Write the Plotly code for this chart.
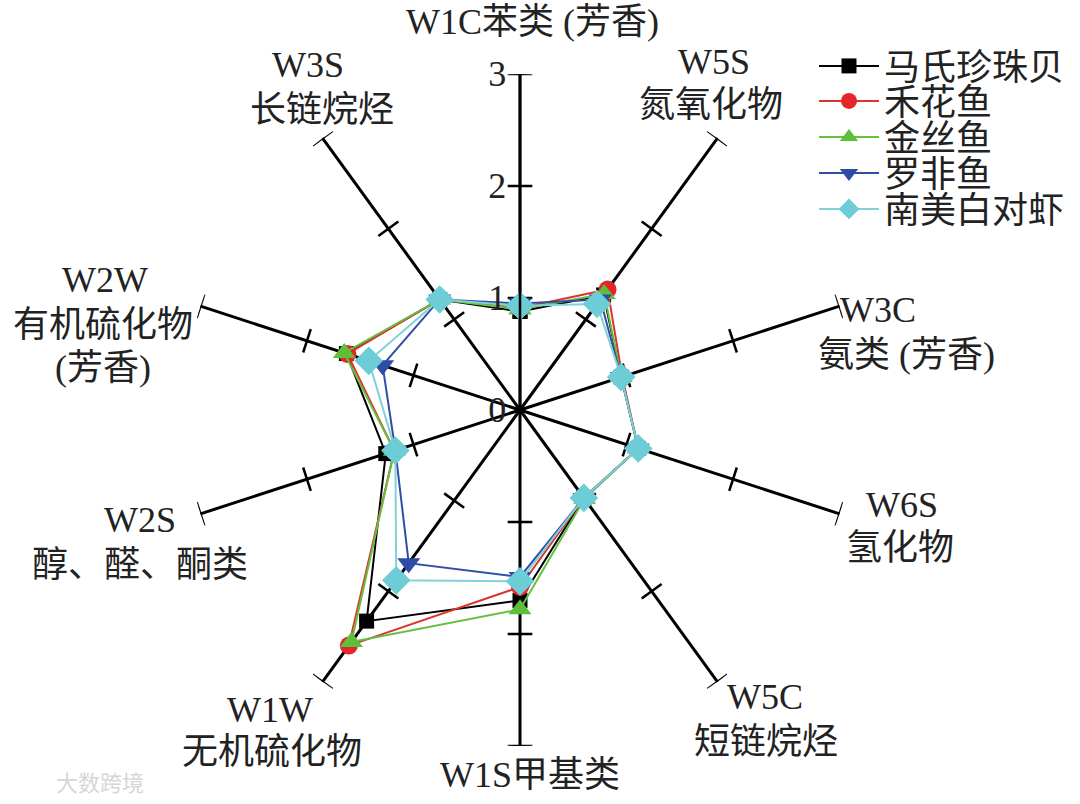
import math
import plotly.graph_objects as go

# ---------------- data ----------------
categories = ["W1C", "W5S", "W3C", "W6S", "W5C", "W1S", "W1W", "W2S", "W2W", "W3S"]
series_names = ["马氏珍珠贝", "禾花鱼", "金丝鱼", "罗非鱼", "南美白对虾"]
ma_shi_zhen_zhu_bei = [0.88, 1.27, 0.95, 1.11, 0.97, 1.70, 2.33, 1.26, 1.63, 1.22]
he_hua_yu = [0.91, 1.33, 0.96, 1.11, 0.97, 1.58, 2.60, 1.18, 1.62, 1.22]
jin_si_yu = [0.90, 1.28, 0.95, 1.11, 0.98, 1.78, 2.56, 1.18, 1.65, 1.22]
luo_fei_yu = [0.95, 1.22, 0.95, 1.11, 0.97, 1.49, 1.69, 1.17, 1.29, 1.22]
nan_mei_bai_dui_xia = [0.93, 1.17, 0.95, 1.11, 0.97, 1.53, 1.88, 1.17, 1.42, 1.22]
radial_ticks = [0, 1, 2, 3]
spoke_ticks = [1, 2, 3]

# label text lines for each axis (shown outside the spokes)
label_lines = [
    ["W1C苯类 (芳香)"],
    ["W5S", "氮氧化物"],
    ["W3C", "氨类 (芳香)"],
    ["W6S", "氢化物"],
    ["W5C", "短链烷烃"],
    ["W1S甲基类"],
    ["W1W", "无机硫化物"],
    ["W2S", "醇、醛、酮类"],
    ["W2W", "有机硫化物", "(芳香)"],
    ["W3S", "长链烷烃"],
]

# ---------------- style ----------------
W, H = 1080, 804
FONT = "Liberation Serif, Times New Roman, Noto Sans CJK SC, serif"
FS = 36
colors = ["#000000", "#e3262a", "#5dbf3a", "#2c4ca8", "#6ccdd6"]
line_colors = ["#000000", "#d9362f", "#66c040", "#2f4ea6", "#80d1d8"]
symbols = ["square", "circle", "triangle-up", "triangle-down", "diamond"]
msizes = [15, 18, 20, 20, 22]
series_values = [ma_shi_zhen_zhu_bei, he_hua_yu, jin_si_yu, luo_fei_yu, nan_mei_bai_dui_xia]

n = len(categories)
angles = [i * 360.0 / n for i in range(n)]
rmax = radial_ticks[-1]

# centre (520, 410) px, radius 336 px
cx, cy, R = 520, 410, 336
dom_x = [(cx - R) / W, (cx + R) / W]
dom_y = [(H - (cy + R)) / H, (H - (cy - R)) / H]

fig = go.Figure()

# perpendicular tick marks on each spoke
h = 0.11
tr, tt = [], []
for a in angles:
    for k in spoke_ticks:
        rr = math.sqrt(k * k + h * h)
        da = math.degrees(math.atan(h / k))
        tr += [rr, rr, None]
        tt += [a - da, a + da, None]
fig.add_trace(go.Scatterpolar(r=tr, theta=tt, mode="lines",
                              line=dict(color="black", width=2.5),
                              cliponaxis=False, hoverinfo="skip",
                              showlegend=False))

legend_rows_px = [66, 101, 137, 173, 209]
for i, (name, vals) in enumerate(zip(series_names, series_values)):
    lg = "legend" if i == 0 else f"legend{i + 1}"
    fig.add_trace(go.Scatterpolar(
        r=vals + vals[:1],
        theta=angles + angles[:1],
        mode="lines+markers",
        name=name,
        line=dict(color=line_colors[i], width=2),
        marker=dict(symbol=symbols[i], size=msizes[i], color=colors[i],
                    line=dict(width=0)),
        cliponaxis=False,
        legend=lg,
    ))

layout_legends = {}
for i in range(len(series_names)):
    key = "legend" if i == 0 else f"legend{i + 1}"
    layout_legends[key] = dict(
        x=814 / W, xanchor="left",
        y=1 - legend_rows_px[i] / H, yanchor="middle",
        bgcolor="rgba(0,0,0,0)",
        font=dict(family=FONT, size=FS, color="#222222"),
        itemwidth=60,
        tracegroupgap=0,
    )

# axis label positions (pixel centres of each text line)
label_pos_px = [
    [(532, 22)],
    [(714, 62), (711, 105)],
    [(878, 310), (906, 355)],
    [(902, 505), (900, 548)],
    [(765, 697), (766, 742)],
    [(530, 775)],
    [(270, 710), (272, 752)],
    [(140, 520), (140, 565)],
    [(105, 280), (103, 325), (103, 368)],
    [(308, 65), (322, 110)],
]
annotations = []
for lines, poss in zip(label_lines, label_pos_px):
    for txt, (px, py) in zip(lines, poss):
        annotations.append(dict(
            text=txt, x=px / W, y=1 - py / H, xref="paper", yref="paper",
            xanchor="center", yanchor="middle", showarrow=False,
            font=dict(family=FONT, size=FS, color="#222222")))

# faint watermark
annotations.append(dict(text="大数跨境", x=100 / W, y=1 - 781 / H,
                        xref="paper", yref="paper", showarrow=False,
                        xanchor="center", yanchor="middle",
                        font=dict(family="Noto Sans CJK SC", size=22,
                                  color="#d6d6d6")))

fig.update_layout(
    width=W, height=H,
    margin=dict(l=0, r=0, t=0, b=0),
    paper_bgcolor="white",
    plot_bgcolor="white",
    font=dict(family=FONT, size=FS, color="#222222"),
    polar=dict(
        domain=dict(x=dom_x, y=dom_y),
        bgcolor="rgba(0,0,0,0)",
        angularaxis=dict(
            type="linear", thetaunit="degrees",
            direction="clockwise", rotation=90,
            tickmode="array", tickvals=angles,
            showticklabels=False, ticks="",
            showline=False, showgrid=True,
            gridcolor="black", gridwidth=2.5,
        ),
        radialaxis=dict(
            range=[0, rmax], angle=90, side="counterclockwise",
            tickmode="array", tickvals=radial_ticks,
            ticktext=[str(t) for t in radial_ticks],
            ticks="", showgrid=False, showline=True,
            linecolor="black", linewidth=2.5,
            tickfont=dict(family=FONT, size=FS, color="#222222"),
            tickangle=90,
        ),
    ),
    annotations=annotations,
    **layout_legends,
)

fig.write_html("out.html", config={"displayModeBar": False},
               post_script="document.body.style.margin='0px';")
